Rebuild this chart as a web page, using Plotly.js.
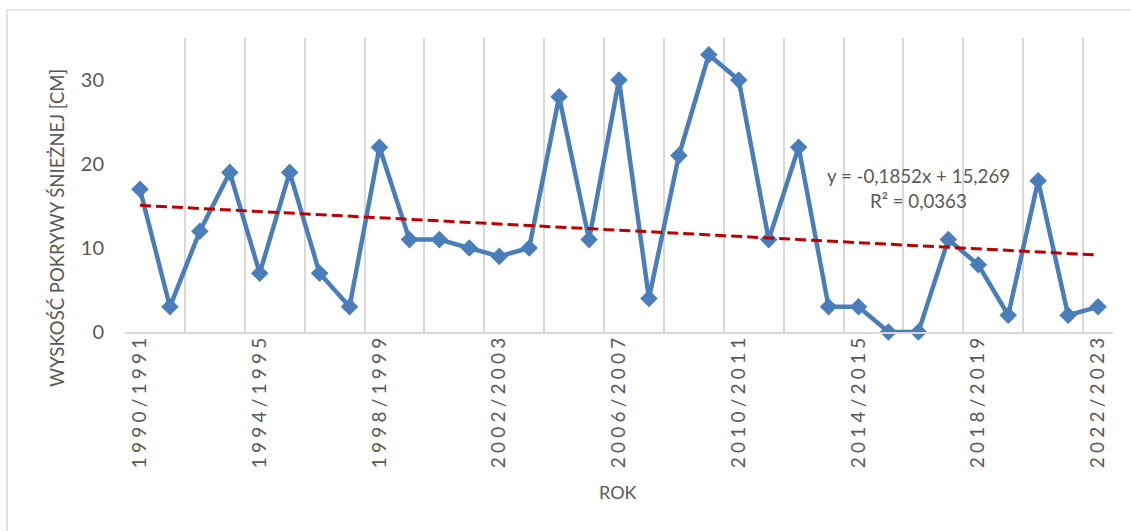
<!DOCTYPE html>
<html>
<head>
<meta charset="utf-8">
<script src="https://cdn.plot.ly/plotly-3.0.1.min.js"></script>
<style>
  html, body { margin: 0; padding: 0; background: #fff; }
  #chart { width: 1131px; height: 531px; }
  .xtick text { letter-spacing: 4.2px; }
</style>
</head>
<body>
<div id="chart"></div>
<script>
// Seasons (categories)
const seasons = [
  "1990/1991","1991/1992","1992/1993","1993/1994","1994/1995","1995/1996",
  "1996/1997","1997/1998","1998/1999","1999/2000","2000/2001","2001/2002",
  "2002/2003","2003/2004","2004/2005","2005/2006","2006/2007","2007/2008",
  "2008/2009","2009/2010","2010/2011","2011/2012","2012/2013","2013/2014",
  "2014/2015","2015/2016","2016/2017","2017/2018","2018/2019","2019/2020",
  "2020/2021","2021/2022","2022/2023"
];
// Snow cover depth [cm]
const snowDepth = [
  17, 3, 12, 19, 7, 19, 7, 3, 22, 11, 11, 10, 9, 10, 28, 11, 30, 4,
  21, 33, 30, 11, 22, 3, 3, 0, 0, 11, 8, 2, 18, 2, 3
];
// Linear trendline endpoints (y = -0,1852x + 15,269 at first and last season)
const trendValues = [15.08, 9.16];
const trendLabel = "y = -0,1852x + 15,269";
const r2Label = "R² = 0,0363";
const tickEvery = 4;
const gridEvery = 2;

const idx = seasons.map((_, i) => i);
const tickIdx = idx.filter(i => i % tickEvery === 0);
const tickText = tickIdx.map(i => seasons[i]);
const gridVals = [];
for (let i = 0; i < seasons.length; i += gridEvery) gridVals.push(i - 0.5);
const xRange = [-0.5, seasons.length - 0.5];

const txt = "#595959";
const font = "Lato, 'Open Sans', sans-serif";

const traces = [
  {
    x: idx, y: snowDepth, type: "scatter", mode: "lines+markers",
    line: { color: "#4A7EBB", width: 4.5 },
    marker: { symbol: "diamond", size: 13.5, color: "#4A7EBB" },
    cliponaxis: false, hoverinfo: "x+y", showlegend: false
  },
  {
    x: [idx[0], idx[idx.length - 1]], y: trendValues, type: "scatter", mode: "lines",
    line: { color: "#C00000", width: 3, dash: "11px,5px" },
    showlegend: false
  },
  {
    x: gridVals, y: gridVals.map(() => null), xaxis: "x2", type: "scatter",
    mode: "markers", showlegend: false, hoverinfo: "skip"
  }
];

const layout = {
  width: 1131, height: 531,
  margin: { l: 125, r: 18, t: 38, b: 199 },
  paper_bgcolor: "#fff", plot_bgcolor: "rgba(0,0,0,0)",
  font: { family: font, color: txt, size: 18 },
  xaxis: {
    range: xRange, tickmode: "array", tickvals: tickIdx, ticktext: tickText,
    tickangle: -90, showgrid: false, zeroline: false,
    showline: true, linecolor: "#d9d9d9", linewidth: 2,
    ticks: "", ticklabelstandoff: -8,
    tickfont: { family: font, size: 19, color: txt }
  },
  xaxis2: {
    overlaying: "x", matches: "x", range: xRange, tickmode: "array", tickvals: gridVals,
    showticklabels: false, showgrid: true, gridcolor: "#d9d9d9", gridwidth: 2,
    zeroline: false, ticks: ""
  },
  yaxis: {
    range: [0, 35], dtick: 10, tick0: 0, showgrid: false, zeroline: false,
    showline: false, ticks: "", ticklabelstandoff: 20,
    tickfont: { family: font, size: 20, color: txt }
  },
  annotations: [
    { xref: "paper", yref: "paper", x: -0.0688, y: 0.354, xanchor: "center", yanchor: "middle",
      text: "WYSKOŚĆ POKRYWY ŚNIEŻNEJ [CM]",
      textangle: -90, showarrow: false, font: { family: font, size: 18.5, color: txt } },
    { xref: "paper", yref: "paper", x: 0.4985, y: -0.544, xanchor: "center", yanchor: "middle",
      text: "ROK", showarrow: false, font: { family: font, size: 18, color: txt } },
    { xref: "paper", yref: "paper", x: 0.8036, y: 0.532, xanchor: "center", yanchor: "middle",
      text: trendLabel, showarrow: false, font: { family: font, size: 18.7, color: txt } },
    { xref: "paper", yref: "paper", x: 0.8036, y: 0.447, xanchor: "center", yanchor: "middle",
      text: r2Label, showarrow: false, font: { family: font, size: 18.7, color: txt } }
  ],
  shapes: [
    { type: "rect", xref: "paper", yref: "paper",
      x0: -0.1194, x1: 1.03, y0: -0.72, y1: 1.095,
      line: { color: "#d9d9d9", width: 1.5 }, fillcolor: "rgba(0,0,0,0)", layer: "below" }
  ]
};

Plotly.newPlot("chart", traces, layout, { staticPlot: true, displayModeBar: false });
</script>
</body>
</html>
